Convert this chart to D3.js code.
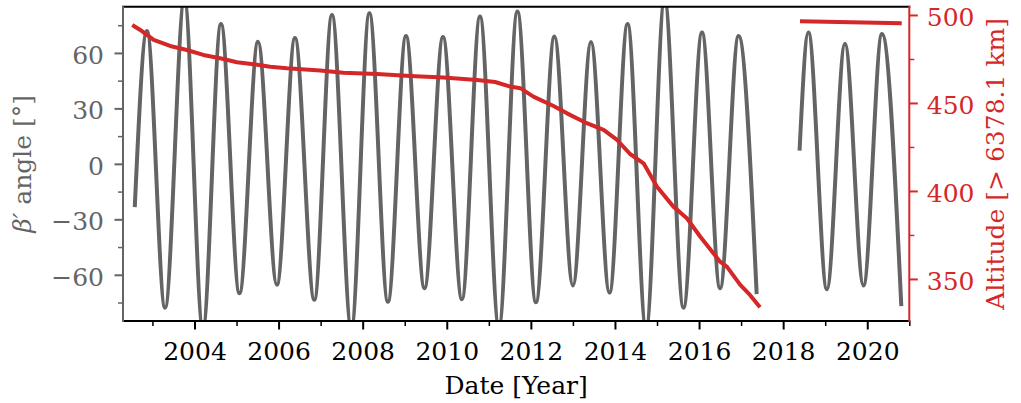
<!DOCTYPE html>
<html>
<head>
<meta charset="utf-8">
<script src="https://cdn.jsdelivr.net/npm/d3@7"></script>
<style>
  html, body { margin: 0; padding: 0; background: #fff; }
  svg { display: block; font-family: "DejaVu Serif", serif; }
</style>
</head>
<body>
<svg id="chart" width="1021" height="403"></svg>
<script>
// β' angle, first mission segment (decimal year, degrees) — turning points of the oscillation
const betaDates1 = [2002.58, 2002.87, 2003.30, 2003.76, 2004.20, 2004.63, 2005.07, 2005.51, 2005.96, 2006.39,
  2006.85, 2007.27, 2007.73, 2008.16, 2008.60, 2009.03, 2009.47, 2009.91, 2010.36, 2010.79,
  2011.24, 2011.68, 2012.12, 2012.56, 2013.00, 2013.43, 2013.87, 2014.30, 2014.74, 2015.18,
  2015.63, 2016.07, 2016.50, 2016.94, 2017.37];
const betaValues1 = [-23.4, 71.9, -77.8, 89, -89, 75.7, -70.0, 66.0, -65.4, 68.1,
  -73.5, 80.5, -89, 81.4, -74.6, 69.2, -67.3, 68.6, -73.2, 79.7,
  -88, 82.4, -74.9, 68.9, -65.8, 65.9, -69.7, 75.7, -89, 89,
  -77.8, 71.1, -67.3, 69.2, -70.5];

// β' angle, second mission segment
const betaDates2 = [2018.39, 2018.60, 2019.04, 2019.47, 2019.91, 2020.35, 2020.81];
const betaValues2 = [7.2, 71.1, -67.8, 64.9, -65.8, 70.3, -77.0];

// Orbit altitude above 6378.1 km, first segment (decimal year, km)
const altDates1 = [2002.52, 2002.71, 2003.03, 2003.42, 2003.82, 2004.21, 2004.61, 2005.01, 2005.40, 2005.80,
  2006.20, 2006.99, 2007.54, 2008.34, 2009.13, 2009.92, 2010.72, 2011.15, 2011.51, 2011.75,
  2012.06, 2012.54, 2012.86, 2013.33, 2013.73, 2014.05, 2014.36, 2014.68, 2015.00, 2015.39,
  2015.71, 2016.03, 2016.50, 2016.66, 2016.98, 2017.21, 2017.45];
const altValues1 = [494.3, 491.5, 485.8, 482.4, 480.1, 477.3, 475.4, 473.1, 472.0, 470.6,
  469.7, 468.4, 467.2, 466.5, 465.3, 464.4, 463.1, 461.9, 459.3, 458.4,
  453.6, 448.3, 444.1, 438.5, 434.7, 429.0, 421.0, 415.7, 402.4, 391.1,
  384.5, 374.0, 359.8, 357.0, 346.6, 340.9, 333.9];

// Orbit altitude, second segment
const altDates2 = [2018.40, 2020.82];
const altValues2 = [496.4, 495.3];

// Tick values
const xMajorTicks = [2004, 2006, 2008, 2010, 2012, 2014, 2016, 2018, 2020];
const xMinorTicks = [2003, 2005, 2007, 2009, 2011, 2013, 2015, 2017, 2019, 2021];
const betaMajorTicks = [-60, -30, 0, 30, 60];
const betaMinorTicks = [-75, -45, -15, 15, 45, 75];
const altMajorTicks = [350, 400, 450, 500];
const altMinorTicks = [375, 425, 475];

const GRAY = "#646464";
const RED = "#d62728";
const FONT = 25;

const plot = { left: 123, right: 909.3, top: 6.7, bottom: 321 };

const svg = d3.select("#chart");
svg.append("rect").attr("width", 1021).attr("height", 403).attr("fill", "#fff");

const x = d3.scaleLinear().domain([2002.3, 2021.0]).range([plot.left, plot.right]);
const yBeta = d3.scaleLinear().domain([-85, 85]).range([plot.bottom, plot.top]);
const yAlt = d3.scaleLinear().domain([326.1, 504.7]).range([plot.bottom, plot.top]);

svg.append("defs").append("clipPath").attr("id", "plot-clip")
  .append("rect")
  .attr("x", plot.left).attr("y", plot.top)
  .attr("width", plot.right - plot.left).attr("height", plot.bottom - plot.top);

const zip = (xs, ys) => xs.map((d, i) => [d, ys[i]]);

const plotArea = svg.append("g").attr("clip-path", "url(#plot-clip)");

// β' angle curve
const betaLine = d3.line()
  .x(d => x(d[0])).y(d => yBeta(d[1]))
  .curve(d3.curveMonotoneX);

[zip(betaDates1, betaValues1), zip(betaDates2, betaValues2)].forEach(seg => {
  plotArea.append("path")
    .attr("d", betaLine(seg))
    .attr("fill", "none")
    .attr("stroke", GRAY)
    .attr("stroke-width", 4)
    .attr("stroke-linejoin", "round");
});

// Altitude curve
const altLine = d3.line()
  .x(d => x(d[0])).y(d => yAlt(d[1]));

[zip(altDates1, altValues1), zip(altDates2, altValues2)].forEach(seg => {
  plotArea.append("path")
    .attr("d", altLine(seg))
    .attr("fill", "none")
    .attr("stroke", RED)
    .attr("stroke-width", 4)
    .attr("stroke-linejoin", "round");
});

// Axes
function styleAxis(g, color, labelDy, labelY) {
  g.select(".domain").remove();
  g.selectAll(".tick line").attr("stroke", color).attr("stroke-width", 2);
  g.selectAll(".tick text")
    .attr("fill", color)
    .attr("font-size", FONT)
    .attr("font-family", "DejaVu Serif, serif");
  if (labelDy !== undefined) g.selectAll(".tick text").attr("dy", labelDy);
  if (labelY !== undefined) g.selectAll(".tick text").attr("y", labelY);
}

// bottom
const gxMinor = svg.append("g").attr("transform", `translate(0,${plot.bottom})`)
  .call(d3.axisBottom(x).tickValues(xMinorTicks).tickSize(5).tickFormat(""));
styleAxis(gxMinor, "#000");
gxMinor.selectAll(".tick line").attr("stroke-width", 1.5);

const gx = svg.append("g").attr("transform", `translate(0,${plot.bottom})`)
  .call(d3.axisBottom(x).tickValues(xMajorTicks).tickSize(8.5).tickFormat(d3.format("d")));
styleAxis(gx, "#000", "0", 39);

// left
const gyMinor = svg.append("g").attr("transform", `translate(${plot.left},0)`)
  .call(d3.axisLeft(yBeta).tickValues(betaMinorTicks).tickSize(5).tickFormat(""));
styleAxis(gyMinor, GRAY);
gyMinor.selectAll(".tick line").attr("stroke-width", 1.5);

const gy = svg.append("g").attr("transform", `translate(${plot.left},0)`)
  .call(d3.axisLeft(yBeta).tickValues(betaMajorTicks).tickSize(8.5).tickPadding(10.5).tickFormat(d3.format("d")));
styleAxis(gy, GRAY, "0.41em");

// right
const grMinor = svg.append("g").attr("transform", `translate(${plot.right},0)`)
  .call(d3.axisRight(yAlt).tickValues(altMinorTicks).tickSize(5).tickFormat(""));
styleAxis(grMinor, RED);
grMinor.selectAll(".tick line").attr("stroke-width", 1.5);

const gr = svg.append("g").attr("transform", `translate(${plot.right},0)`)
  .call(d3.axisRight(yAlt).tickValues(altMajorTicks).tickSize(8.5).tickPadding(9).tickFormat(d3.format("d")));
styleAxis(gr, RED, "0.41em");

// Spines
const spines = svg.append("g").attr("stroke-width", 2).attr("stroke-linecap", "square");
spines.append("line").attr("x1", plot.left).attr("x2", plot.right).attr("y1", plot.top).attr("y2", plot.top).attr("stroke", "#000");
spines.append("line").attr("x1", plot.left).attr("x2", plot.right).attr("y1", plot.bottom).attr("y2", plot.bottom).attr("stroke", "#000");
spines.append("line").attr("x1", plot.left).attr("x2", plot.left).attr("y1", plot.top).attr("y2", plot.bottom).attr("stroke", GRAY);
spines.append("line").attr("x1", plot.right).attr("x2", plot.right).attr("y1", plot.top).attr("y2", plot.bottom).attr("stroke", RED);

// Axis titles
svg.append("text")
  .attr("x", (plot.left + plot.right) / 2).attr("y", 394)
  .attr("text-anchor", "middle").attr("font-size", FONT).attr("fill", "#000")
  .text("Date [Year]");

const leftTitle = svg.append("text")
  .attr("transform", `translate(31,${(plot.top + plot.bottom) / 2}) rotate(-90)`)
  .attr("text-anchor", "middle").attr("font-size", FONT).attr("fill", GRAY);
leftTitle.append("tspan").attr("font-style", "italic").text("β′");
leftTitle.append("tspan").text(" angle [°]");

svg.append("text")
  .attr("transform", `translate(1004,${(plot.top + plot.bottom) / 2}) rotate(-90)`)
  .attr("text-anchor", "middle").attr("font-size", FONT).attr("fill", RED)
  .text("Altitude [> 6378.1 km]");
</script>
</body>
</html>
